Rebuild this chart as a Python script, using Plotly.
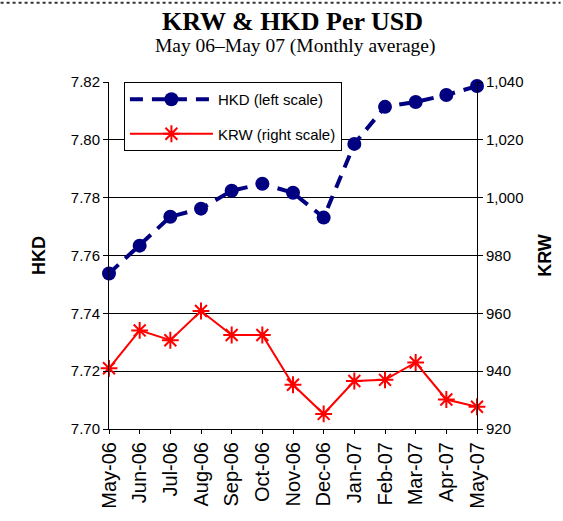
import plotly.graph_objects as go

months = ["May-06", "Jun-06", "Jul-06", "Aug-06", "Sep-06", "Oct-06", "Nov-06",
          "Dec-06", "Jan-07", "Feb-07", "Mar-07", "Apr-07", "May-07"]
hkd = [7.7538, 7.7634, 7.7734, 7.7762, 7.7824, 7.7848, 7.7817,
       7.7731, 7.7986, 7.8114, 7.8131, 7.8155, 7.8186]
krw = [941.0, 954.1, 950.7, 960.8, 952.5, 952.5, 935.3,
       925.2, 936.6, 937.0, 943.0, 930.2, 927.7]

hkd_ticks = [7.70, 7.72, 7.74, 7.76, 7.78, 7.80, 7.82]
krw_ticks = [920, 940, 960, 980, 1000, 1020, 1040]

fig = go.Figure()
fig.add_trace(go.Scatter(
    x=months, y=hkd, name="HKD (left scale)", mode="lines+markers",
    line=dict(color="#000080", width=4, dash="13px,9px"),
    marker=dict(symbol="circle", size=14, color="#000080"),
    cliponaxis=False, legendgroup="a"))
fig.add_trace(go.Scatter(
    x=months, y=krw, name="KRW (right scale)", mode="lines+markers", yaxis="y2",
    line=dict(color="#ff0000", width=2),
    marker=dict(symbol="asterisk-open", size=14, line=dict(color="#ff0000", width=2)),
    cliponaxis=False, legendgroup="b"))

axfont = dict(family="Liberation Sans, Arial", size=15, color="black")

PL, PR, PT, PB = 109, 479, 82, 430
PW, PH = PR - PL, PB - PT

fig.update_layout(
    width=563, height=521,
    margin=dict(l=PL, r=563 - PR, t=PT, b=521 - PB),
    paper_bgcolor="white", plot_bgcolor="white",
    showlegend=True,
    legend=dict(x=(124 - PL) / PW, y=1.0, xanchor="left", yanchor="top",
                bgcolor="white", bordercolor="black", borderwidth=1,
                font=dict(family="Liberation Sans, Arial", size=15, color="black"),
                tracegroupgap=12, itemwidth=83, traceorder="grouped"),
    xaxis=dict(type="category", range=[0, 12], tickangle=-90,
               tickfont=dict(family="Liberation Sans, Arial", size=20, color="black"),
               showline=True, linecolor="black", linewidth=1, mirror=False,
               ticks="outside", ticklen=4, tickcolor="black", showgrid=False, zeroline=False),
    yaxis=dict(range=[7.70, 7.82], tickvals=hkd_ticks, tickformat=".2f",
               tickfont=axfont, showline=True, linecolor="black", linewidth=1,
               ticks="outside", ticklen=5, tickcolor="black",
               showgrid=True, gridcolor="black", gridwidth=1, zeroline=False,
               title=dict(text="<b>HKD</b>", font=dict(family="Liberation Sans, Arial", size=18, color="black"), standoff=20)),
    yaxis2=dict(range=[920, 1040], tickvals=krw_ticks, tickformat=",d", overlaying="y", side="right",
                tickfont=axfont, showline=True, linecolor="black", linewidth=1,
                ticks="outside", ticklen=5, tickcolor="black",
                showgrid=False, zeroline=False,
                title=dict(text="<b>KRW</b>", font=dict(family="Liberation Sans, Arial", size=18, color="black"), standoff=15)),
    shapes=[dict(type="line", xref="paper", yref="paper",
                 x0=-PL / PW, x1=(563 - PL) / PW, y0=(PB - 2.5) / PH, y1=(PB - 2.5) / PH,
                 line=dict(color="#333333", width=2, dash="3px,3px"))],
    annotations=[
        dict(text="<b>KRW & HKD Per USD</b>", xref="paper", yref="paper",
             x=(293 - PL) / PW, y=(PB - 21) / PH, xanchor="center", yanchor="middle",
             showarrow=False, font=dict(family="Liberation Serif, Times New Roman", size=26, color="black")),
        dict(text="May 06–May 07 (Monthly average)", xref="paper", yref="paper",
             x=(297 - PL) / PW, y=(PB - 46) / PH, xanchor="center", yanchor="middle",
             showarrow=False, font=dict(family="Liberation Serif, Times New Roman", size=19.5, color="black")),
    ],
)

fig.write_html("out.html", config={"displayModeBar": False},
               post_script="document.body.style.margin='0';")
